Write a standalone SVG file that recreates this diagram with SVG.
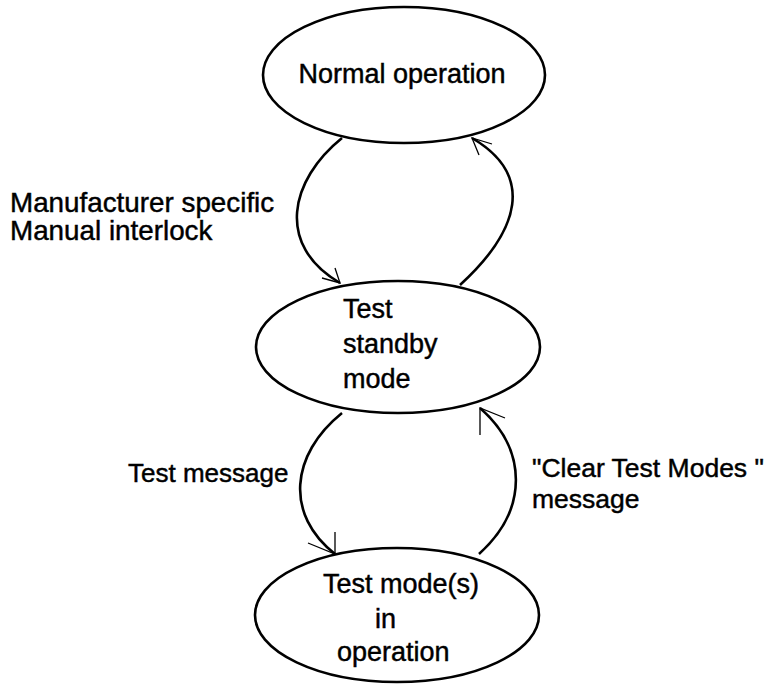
<svg xmlns="http://www.w3.org/2000/svg" width="770" height="684" viewBox="0 0 770 684">
<style>
.node{fill:#fff;stroke:#000;stroke-width:2.6}
.t{font-family:"Liberation Sans",Arial,sans-serif;font-size:27px;fill:#000;stroke:#000;stroke-width:0.45}
.c{fill:none;stroke:#000;stroke-width:2.6}
.h{fill:none;stroke:#000;stroke-width:1.3}
</style>
<rect width="770" height="684" fill="#fff"/>
<g id="normal">
<ellipse class="node" cx="404" cy="75" rx="141" ry="68"/>
<text class="t" x="402" y="83" text-anchor="middle">Normal operation</text>
</g>
<g id="standby">
<ellipse class="node" cx="398" cy="347" rx="142" ry="66"/>
<text class="t" x="343" y="318">Test</text>
<text class="t" x="343" y="353">standby</text>
<text class="t" x="343" y="388">mode</text>
</g>
<g id="testmode">
<ellipse class="node" cx="397" cy="615" rx="142" ry="67"/>
<text class="t" x="401" y="593" text-anchor="middle">Test mode(s)</text>
<text class="t" x="375" y="628">in</text>
<text class="t" x="337" y="661">operation</text>
</g>
<g id="connectors">
<path class="c" d="M342,138 C290,180 275,245 340,283"/>
<path class="h" d="M322,278 L340,283 L335,268"/>
<path class="c" d="M460,285 C520,230 535,175 472,138"/>
<path class="h" d="M492,144 L472,138 L479,155"/>
<path class="c" d="M342,413 C290,455 285,515 335,554"/>
<path class="h" d="M308,543 L335,554 L335,532"/>
<path class="c" d="M479,554 C528,510 528,450 480,408"/>
<path class="h" d="M505,418 L480,408 L480,435"/>
</g>
<g id="labels">
<text class="t" x="10" y="212" style="font-size:27.8px">Manufacturer specific</text>
<text class="t" x="10" y="240" style="font-size:27.8px">Manual interlock</text>
<text class="t" x="128" y="482" style="font-size:26px">Test message</text>
<text class="t" x="532" y="477" style="font-size:26.5px">"Clear Test Modes "</text>
<text class="t" x="532" y="508" style="font-size:26.5px">message</text>
</g>
</svg>
